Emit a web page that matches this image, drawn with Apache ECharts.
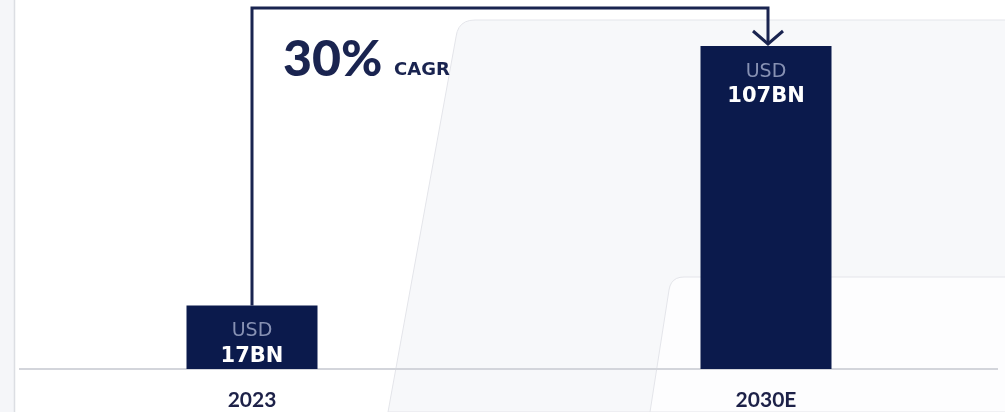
<!DOCTYPE html>
<html>
<head>
<meta charset="utf-8">
<script src="https://cdn.jsdelivr.net/npm/echarts@6/dist/echarts.min.js"></script>
<style>
    html, body { margin: 0; padding: 0; background: #fff; }
    #main { width: 1005px; height: 412px; }
</style>
</head>
<body>
<div id="main"></div>
<script>
// ---- data
var years = ['2023', '2030E'];
var marketSize = [17, 107];      // USD BN
var currency = 'USD';
var unit = 'BN';
var cagr = 30;                   // %

var BAR_COLOR = '#0b1a4c';
var LINE_COLOR = '#1a2450';
var Y_MIN = -5;   // bars in the picture are not drawn from zero

var myChart = echarts.init(document.getElementById('main'));

//---------bars, drawn from the bottom of the axis
function renderBar(params, api) {
    var i = params.dataIndex;
    var top = api.coord([api.value(0), api.value(1)]);
    var base = api.coord([api.value(0), Y_MIN]);
    var w = 131;
    return {
        type: 'group',
        children: [{
            type: 'rect',
            shape: { x: top[0] - w / 2, y: top[1], width: w, height: base[1] - top[1] },
            style: { fill: BAR_COLOR }
        }, {
            type: 'text',
            style: {
                text: currency, x: top[0], y: top[1] + 26,
                align: 'center', verticalAlign: 'middle',
                fill: '#8791b3', font: '19px "DejaVu Sans"'
            }
        }, {
            type: 'text',
            style: {
                text: marketSize[i] + unit, x: top[0], y: top[1] + 51,
                align: 'center', verticalAlign: 'middle',
                fill: '#ffffff', font: 'bold 21px "DejaVu Sans"'
            }
        }]
    };
}

//---------bracket arrow between the two bars
function renderBracket(params, api) {
    var a = api.coord([0, marketSize[0]]);
    var b = api.coord([1, marketSize[1]]);
    var yTop = 8;
    return {
        type: 'group',
        children: [{
            type: 'polyline',
            shape: { points: [[a[0], a[1]], [a[0], yTop], [b[0] + 2, yTop], [b[0] + 2, b[1] - 3]] },
            style: { stroke: LINE_COLOR, lineWidth: 3, fill: null }
        }, {
            type: 'polyline',
            shape: { points: [[b[0] - 13, b[1] - 15], [b[0] + 2, b[1] - 2], [b[0] + 17, b[1] - 15]] },
            style: { stroke: LINE_COLOR, lineWidth: 3, fill: null }
        }]
    };
}

// rounded corner helper for the background panels
function panel(x0, yBottom, xCorner, yTop, r) {
    var pts = [[x0, yBottom], [xCorner, yTop + r]];
    for (var k = 1; k <= 6; k++) {
        var t = k / 6;
        var x = (1 - t) * (1 - t) * xCorner + 2 * (1 - t) * t * (xCorner + 2) + t * t * (xCorner + 2 + r);
        var y = (1 - t) * (1 - t) * (yTop + r) + 2 * (1 - t) * t * yTop + t * t * yTop;
        pts.push([x, y]);
    }
    pts.push([1010, yTop], [1010, yBottom]);
    return pts;
}

var option = {
    animation: false,
    grid: { left: 252, right: 239, top: 46, bottom: 43 },
    xAxis: {
        type: 'category',
        data: years,
        boundaryGap: false,
        axisLine: { show: false },
        axisTick: { show: false },
        axisLabel: {
            color: '#1d2148',
            fontSize: 21,
            fontWeight: 'bold',
            fontFamily: 'Lato',
            margin: 21
        }
    },
    yAxis: {
        type: 'value',
        min: Y_MIN,
        max: marketSize[1],
        show: false,
        splitLine: { show: false }
    },
    graphic: [
        // background panels
        {
            type: 'polygon', z: -20,
            shape: { points: panel(388, 412, 456, 20, 17) },
            style: { fill: '#f7f8fa', stroke: '#e4e5ea', lineWidth: 1 }
        },
        {
            type: 'polygon', z: -19,
            shape: { points: panel(650, 412, 669, 277, 13) },
            style: { fill: '#fdfdfe', stroke: '#e4e5ea', lineWidth: 1 }
        },
        // left strip
        { type: 'rect', z: -10, shape: { x: 0, y: 0, width: 14, height: 412 }, style: { fill: '#f5f6f9' } },
        { type: 'line', z: -10, shape: { x1: 14.5, y1: 0, x2: 14.5, y2: 412 }, style: { stroke: '#dcdee3', lineWidth: 1.5 } },
        // baseline
        { type: 'line', z: -5, shape: { x1: 19, y1: 369, x2: 998, y2: 369 }, style: { stroke: '#d3d5db', lineWidth: 2 } },
        // CAGR
        {
            type: 'text', left: 283, top: 35,
            style: { text: cagr + '%', fill: '#1a2450', font: '900 50px Lato' }
        },
        {
            type: 'text', left: 394, top: 61,
            style: { text: 'CAGR', fill: '#1a2450', font: 'bold 18px "DejaVu Sans"' }
        }
    ],
    series: [{
        type: 'custom',
        renderItem: renderBar,
        encode: { x: 0, y: 1 },
        data: marketSize.map(function (v, i) { return [i, v]; })
    }, {
        type: 'custom',
        renderItem: renderBracket,
        data: [[0, 0]],
        silent: true
    }]
};

myChart.setOption(option);
</script>
</body>
</html>
